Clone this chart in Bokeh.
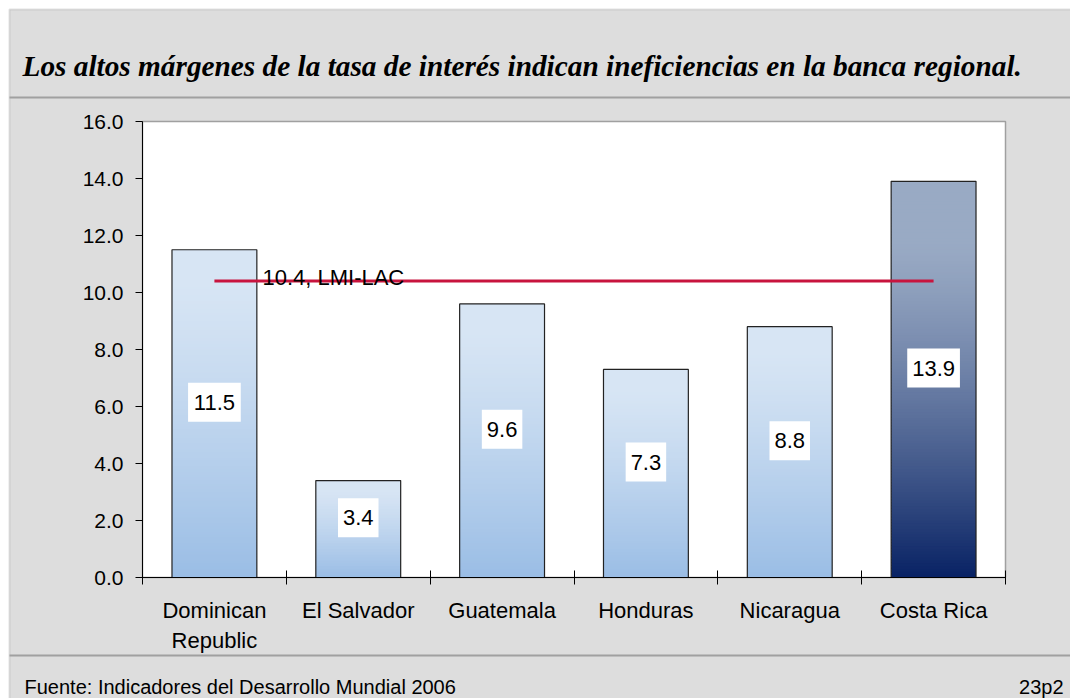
from bokeh.plotting import figure
from bokeh.models import (Range1d, FixedTicker, PrintfTickFormatter, Label, BoxAnnotation,
                          ColumnDataSource, LinearAxis)
from bokeh.core.properties import value
from bokeh.embed import file_html
from bokeh.resources import INLINE

# ---- data ----
categories = ["Dominican\nRepublic", "El Salvador", "Guatemala", "Honduras", "Nicaragua", "Costa Rica"]
margins = [11.5, 3.4, 9.6, 7.3, 8.8, 13.9]
lac_value = 10.4
lac_label = "10.4, LMI-LAC"
title_text = "Los altos márgenes de la tasa de interés indican ineficiencias en la banca regional."
source_text = "Fuente: Indicadores del Desarrollo Mundial 2006"
page_text = "23p2"
y_ticks = [0, 2, 4, 6, 8, 10, 12, 14, 16]

# ---- layout constants (pixels) ----
W, H = 1070, 698
PX_L, PX_R, PX_T, PX_B = 142, 1005, 121, 577
Y_MAX = 16
BG = "#dddddd"
EDGE = "#a0a0a0"
FONT = "Liberation Sans"

ncat = len(categories)
xscale = (PX_R - PX_L) / ncat
yscale = (PX_B - PX_T) / Y_MAX
x_range = Range1d(-PX_L / xscale, ncat + (W - PX_R) / xscale)
y_range = Range1d(-(H - PX_B) / yscale, Y_MAX + PX_T / yscale)

p = figure(width=W, height=H, output_backend="svg", toolbar_location=None,
           x_range=x_range, y_range=y_range, min_border=0,
           x_axis_location=None, y_axis_location=None)
p.min_border_left = p.min_border_right = p.min_border_top = p.min_border_bottom = 0
p.border_fill_color = "white"
p.background_fill_color = "white"
p.outline_line_color = None
p.grid.visible = False

# page panel (gray with border), separators
p.add_layout(BoxAnnotation(left=9, right=W + 5, top=9, bottom=H + 5,
                           left_units="canvas", right_units="canvas", top_units="canvas",
                           bottom_units="canvas", fill_color=BG, fill_alpha=1,
                           line_color=EDGE, line_width=2, level="underlay"))
for top in (96, 654):
    p.add_layout(BoxAnnotation(left=9, right=W + 5, top=top, bottom=top + 2,
                               left_units="canvas", right_units="canvas", top_units="canvas",
                               bottom_units="canvas", fill_color=EDGE, fill_alpha=1,
                               line_color=None, level="underlay"))

xs = [i + 0.5 for i in range(ncat)]

# plot area
p.quad(left=[0], right=[ncat], bottom=[0], top=[Y_MAX], fill_color="white",
       line_color=EDGE, line_width=1.5)

# gradient bars
bar_w = 0.59
step = 0.1
light_top, light_bot = (0xd7, 0xe5, 0xf4), (0x9a, 0xbd, 0xe5)
dark_top, dark_bot = (0x99, 0xaa, 0xc4), (0x08, 0x22, 0x64)


def mix(c1, c2, t):
    return "#%02x%02x%02x" % tuple(int(round(a + (b - a) * t)) for a, b in zip(c1, c2))


L, R, B, T, C = [], [], [], [], []
for i, (x, v) in enumerate(zip(xs, margins)):
    dark = i == ncat - 1
    top_c, bot_c = (dark_top, dark_bot) if dark else (light_top, light_bot)
    n = max(1, int(round(v / step)))
    for k in range(n):
        b = v * k / n
        t = v * (k + 1) / n
        frac_from_top = 1 - (k + 0.5) / n
        if dark:
            tt = max(0.0, (frac_from_top - 0.15) / 0.85) ** 1.3
        else:
            tt = max(0.0, (frac_from_top - 0.1) / 0.9) ** 1.2
        L.append(x - bar_w / 2)
        R.append(x + bar_w / 2)
        B.append(b)
        T.append(min(v, t + (v / n) * 0.5))
        C.append(mix(top_c, bot_c, tt))
p.quad(left=L, right=R, bottom=B, top=T, fill_color=C, line_color=None)
p.vbar(x=xs, top=margins, width=bar_w, fill_color=None, line_color="#222222", line_width=1.2)

# LAC reference line
p.line(x=[xs[0], xs[-1]], y=[lac_value, lac_value], line_color="#c8143e", line_width=3)
p.text(x=[xs[0]], y=[lac_value], text=[lac_label], x_offset=48, y_offset=-4,
       text_font=value(FONT), text_font_size="22px", text_baseline="alphabetic",
       text_align="left", text_color="black")

# value labels (white boxes sized to their text)
lab_txt = ["%.1f" % v for v in margins]
lab_w = [12.2 * (len(t) - 1) + 6.1 + 10 for t in lab_txt]
lab_y = [v / 2 + 0.4 for v in margins]
lab_src = ColumnDataSource(dict(x=xs, y=lab_y, t=lab_txt, w=lab_w))
p.rect(x="x", y="y", width="w", height=39, width_units="screen", height_units="screen",
       fill_color="white", line_color=None, source=lab_src)
p.text(x="x", y="y", text="t", source=lab_src, text_font=value(FONT), text_font_size="22px",
       text_align="center", text_baseline="middle", text_color="black")

# y axis
ya = LinearAxis(fixed_location=0)
ya.ticker = FixedTicker(ticks=y_ticks)
ya.formatter = PrintfTickFormatter(format="%.1f")
ya.major_tick_in = 0
ya.major_tick_out = 7
ya.minor_tick_line_color = None
ya.axis_line_color = "black"
ya.major_tick_line_color = "black"
ya.major_label_text_font = FONT
ya.major_label_text_font_size = "21px"
ya.major_label_text_color = "black"
ya.major_label_standoff = 12
ya.bounds = (0, Y_MAX)
p.add_layout(ya, "left")

# x axis
xa = LinearAxis(fixed_location=0)
xa.ticker = FixedTicker(ticks=xs, minor_ticks=list(range(ncat + 1)))
xa.major_label_overrides = {x: c for x, c in zip(xs, categories)}
xa.major_tick_in = 0
xa.major_tick_out = 0
xa.minor_tick_in = 7
xa.minor_tick_out = 7
xa.minor_tick_line_color = "black"
xa.axis_line_color = "black"
xa.major_label_text_font = FONT
xa.major_label_text_font_size = "22px"
xa.major_label_text_color = "black"
xa.major_label_standoff = 13
xa.bounds = (0, ncat)
p.add_layout(xa, "below")

# texts
p.add_layout(Label(x=22, y=65, x_units="canvas", y_units="canvas", text=title_text,
                   text_font="Liberation Serif", text_font_style="bold italic",
                   text_font_size="29.3px", text_baseline="middle", text_color="black"))
p.add_layout(Label(x=24, y=686, x_units="canvas", y_units="canvas", text=source_text,
                   text_font=FONT, text_font_size="20px", text_baseline="middle",
                   text_color="black"))
p.add_layout(Label(x=1063, y=686, x_units="canvas", y_units="canvas", text=page_text,
                   text_font=FONT, text_font_size="20px", text_baseline="middle",
                   text_align="right", text_color="black"))

open("out.html", "w").write(file_html(p, INLINE))
